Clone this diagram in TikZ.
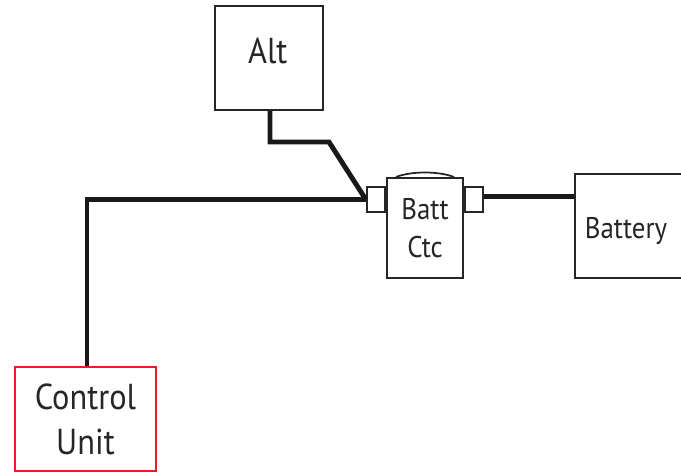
\documentclass[tikz,border=0pt]{standalone}
\usepackage{fontspec}
\setmainfont[FakeStretch=0.9]{PT Sans}
\usepackage{tikz}
\usetikzlibrary{positioning, calc}
\definecolor{ctrlred}{HTML}{ED1C24}
\tikzset{>=stealth}
\tikzset{
    unitbox/.style={draw=black!85, line width=1.2pt, fill=white, align=center, inner sep=0pt, text=black!85},
    tabbox/.style={draw=black!85, line width=1.2pt, fill=white, inner sep=0pt, minimum width=0.36cm, minimum height=0.5cm},
    busline/.style={draw=black!90, line width=2.8pt, line join=miter}
}
\begin{document}
\begin{tikzpicture}[x=0.02cm,y=-0.02cm]
        \useasboundingbox (0,0) rectangle (681,474);

        % Boxes
        \node[unitbox, minimum width=2.16cm, minimum height=2.08cm, font=\fontsize{20.5}{25}\selectfont] (alt) at (269,58) {\hspace*{-0.05cm}\raisebox{-0.1cm}[0pt][0pt]{Alt}};
        \node[unitbox, minimum width=1.52cm, minimum height=2cm, font=\fontsize{17}{22}\selectfont] (ctc) at (425,228) {Batt\\Ctc};
        \node[tabbox, left=0pt of ctc.west, yshift=0.57cm] (tabL) {};
        \node[tabbox, right=0pt of ctc.east, yshift=0.57cm] (tabR) {};
        \node[unitbox, minimum width=2.16cm, minimum height=2.08cm, font=\fontsize{17}{22}\selectfont] (batt) at (629,226) {\hspace*{-0.12cm}\raisebox{-0.24cm}[0pt][0pt]{Battery}};
        \node[unitbox, draw=ctrlred, minimum width=2.82cm, minimum height=2.08cm, font=\fontsize{20.5}{25.5}\selectfont] (ctrl) at (85.5,419) {Control\\Unit};

        % Contactor top
        \draw[black!85, line width=1pt] ($(ctc.north west)+(10,0)$) .. controls (412,171) and (438,171) .. ($(ctc.north east)+(-10,0)$);

        % Wires
        \coordinate (altdrop) at (270,142);
        \coordinate (altbend) at (329,142);
        \coordinate (busturn) at (87,200);
        \coordinate (battin) at ($(tabR.east)+(0,-3)$);
        \draw[busline] (alt.south -| altdrop) -- (altdrop) -- (altbend) -- (tabL.west);
        \draw[busline] (tabL.west) -- (tabL.west -| busturn) -- (ctrl.north -| busturn);
        \draw[busline] (battin) -- (battin -| batt.west);
\end{tikzpicture}
\end{document}
